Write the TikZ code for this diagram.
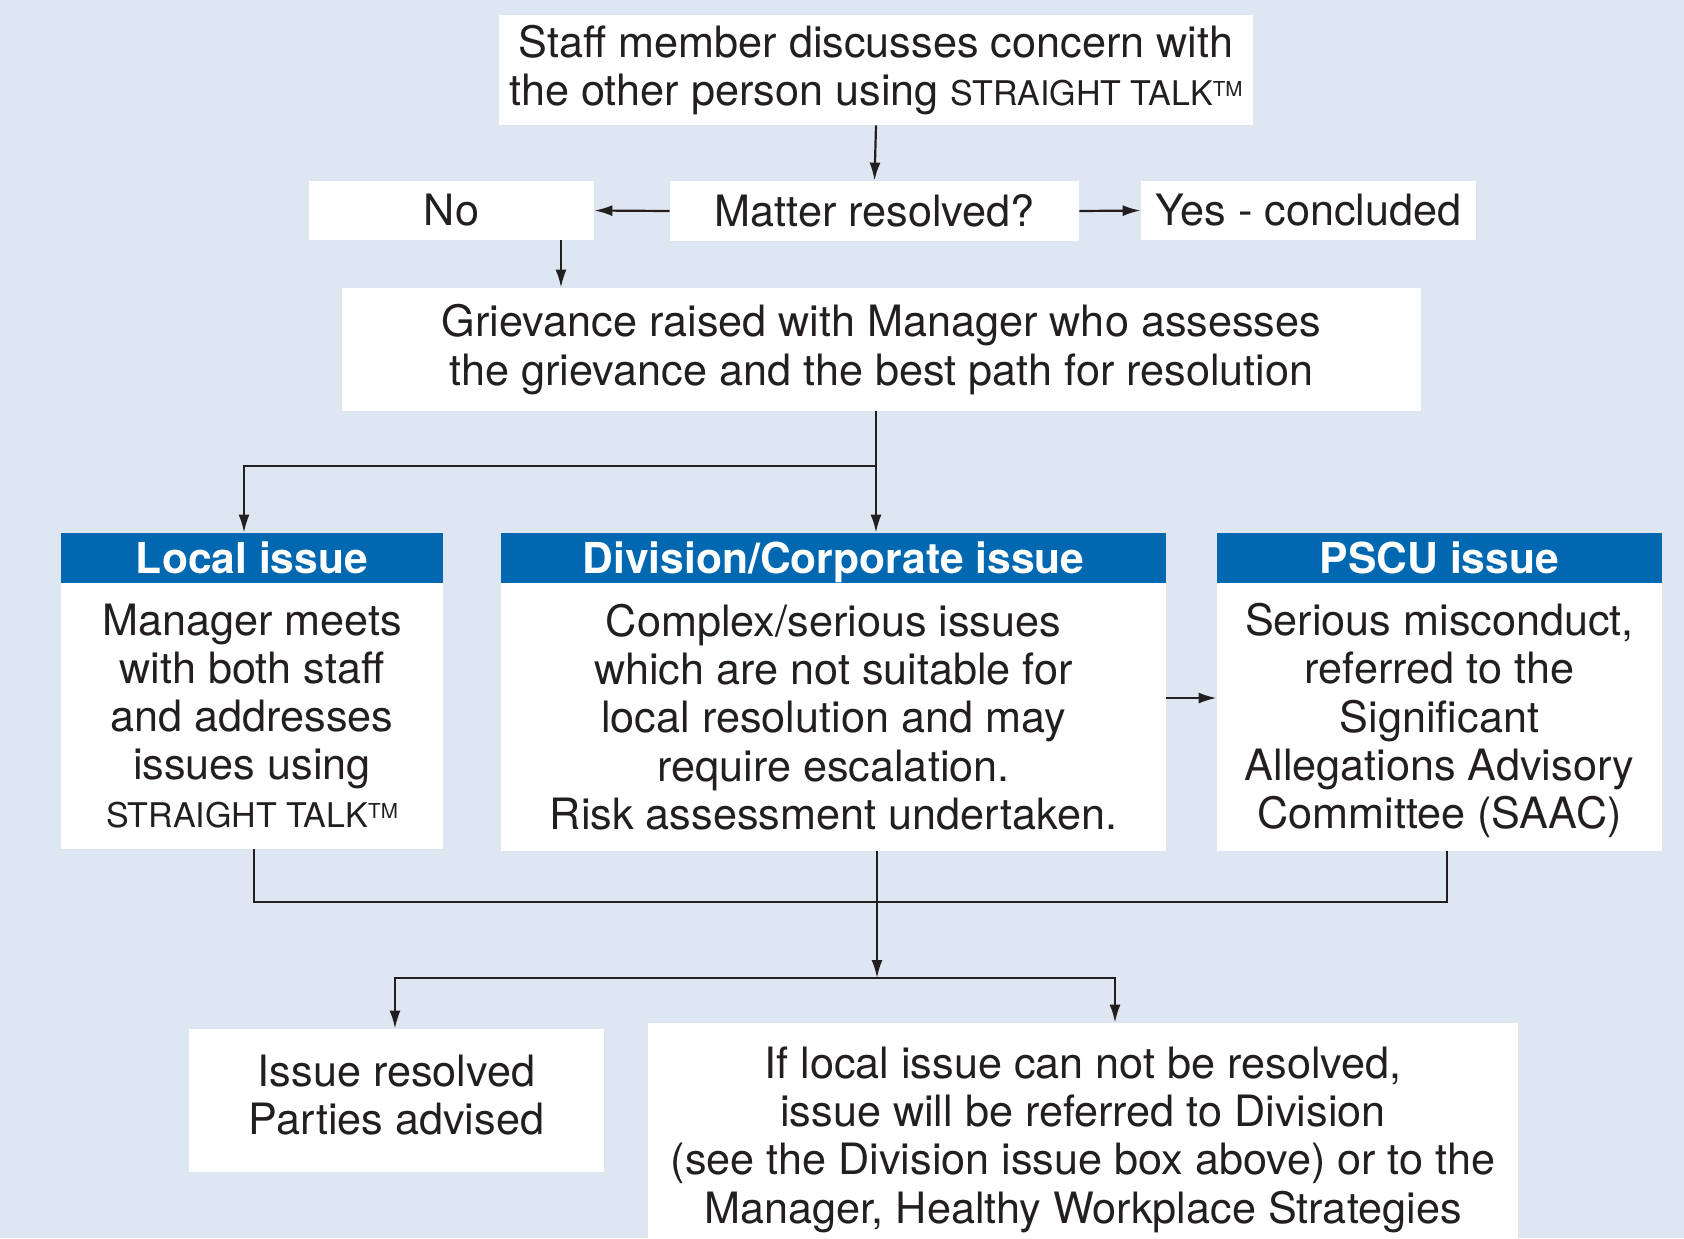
\documentclass[tikz,border=0pt]{standalone}
\usepackage{fontspec}
\setmainfont{TeX Gyre Heros}
\usetikzlibrary{arrows.meta,calc}
\definecolor{bg}{HTML}{DEE6F2}
\definecolor{hdr}{HTML}{0067B1}
\definecolor{ink}{HTML}{231F20}
% trade mark name set in smaller capitals with a raised TM
\newcommand\sttalk{{\fontsize{17}{24}\selectfont STRAIGHT TALK}\raisebox{4.6pt}{\fontsize{10.3}{10}\selectfont TM}}

\begin{document}
\begin{tikzpicture}[x=0.5pt,y=-0.5pt,
  box/.style={fill=white,draw=none,inner sep=0pt,align=center,text=ink,
    font=\fontsize{21.6}{24.1}\selectfont},
  hdrbox/.style={fill=hdr,draw=none,inner sep=0pt,align=center,text=white,
    text height=15.3pt,text depth=0pt,
    font=\bfseries\fontsize{21.3}{24}\selectfont},
  arr/.style={draw=ink,line width=1.1pt,-{Latex[length=9pt,width=5.5pt]}},
  ln/.style={draw=ink,line width=1.1pt}]
\useasboundingbox[fill=bg] (0,0) rectangle (1684,1238);

% first conversation and its outcome
\node[box,minimum width=377pt,minimum height=55pt] (talk) at (876,70)
  {Staff member discusses concern with\\the other person using \sttalk};
\node[box,minimum width=142.5pt,minimum height=29.5pt] (no) at (451.5,210.5) {No};
\node[box,minimum width=204.5pt,minimum height=30pt] (matter) at (874.5,211) {Matter resolved?};
\node[box,minimum width=167.5pt,minimum height=29.5pt] (yes) at (1308.5,210.5) {Yes - concluded};
\node[box,minimum width=539.5pt,minimum height=61.5pt] (griev) at (881.5,349.5)
  {Grievance raised with Manager who assesses\\the grievance and the best path for resolution};

% the three kinds of issue
\node[hdrbox,minimum width=191pt,minimum height=25pt] (loch) at (252,558) {Local issue};
\node[box,minimum width=191pt,minimum height=133pt] (locb) at (252,716)
  {Manager meets\\with both staff\\and addresses\\issues using\\\sttalk};
\node[hdrbox,minimum width=332.5pt,minimum height=25pt] (divh) at (833.5,558) {Division/Corporate issue};
\node[box,minimum width=332.5pt,minimum height=134pt] (divb) at (833.5,717)
  {Complex/serious issues\\which are not suitable for\\local resolution and may\\require escalation.\\Risk assessment undertaken.};
\node[hdrbox,minimum width=222.5pt,minimum height=25pt] (pscuh) at (1439.5,558) {PSCU issue};
\node[box,minimum width=222.5pt,minimum height=134pt,text depth=1pt] (pscub) at (1439.5,717)
  {Serious misconduct,\\referred to the\\Significant\\Allegations Advisory\\Committee (SAAC)};

% final outcomes
\node[box,minimum width=207.5pt,minimum height=71.5pt,text depth=6pt] (res) at (396.5,1100.5)
  {Issue resolved\\Parties advised};
\node[box,minimum width=435pt,minimum height=113.5pt,text depth=1.5pt] (esc) at (1083,1136.5)
  {If local issue can not be resolved,\\issue will be referred to Division\\(see the Division issue box above) or to the\\Manager, Healthy Workplace Strategies};

% connectors
\draw[arr] (talk.south) -- (matter.north);
\draw[arr] (matter.west) -- (no.east);
\draw[arr] (matter.east) -- (yes.west);
\coordinate (nx) at (561,0);
\draw[arr] (no.south -| nx) -- (griev.north -| nx);

\coordinate (gx) at (876,0);
\coordinate (split) at (876,466);
\coordinate (lx) at (244,466);
\draw[arr] (griev.south -| gx) -- (divh.north -| gx);
\draw[arr] (split) -- (lx) -- (loch.north -| lx);

\coordinate (ry) at (0,698);
\draw[arr] (divb.east |- ry) -- (pscub.west |- ry);

\coordinate (bl) at (254,902);
\coordinate (bc) at (877,902);
\coordinate (br) at (1447,902);
\draw[ln] (locb.south -| bl) -- (bl) -- (br) -- (pscub.south -| br);
\coordinate (jn) at (877,978);
\draw[arr] (divb.south -| bc) -- (jn);
\coordinate (jl) at (395,978);
\coordinate (jr) at (1115,978);
\draw[arr] (jn) -- (jl) -- (res.north -| jl);
\draw[arr] (jn) -- (jr) -- (esc.north -| jr);
\end{tikzpicture}
\end{document}
